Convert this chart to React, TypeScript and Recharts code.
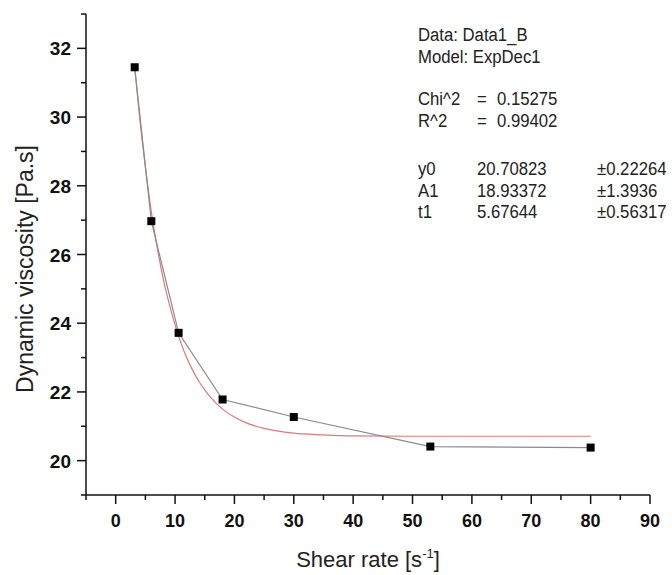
import React from "react";
import { ComposedChart, Line, XAxis, YAxis, Label } from "recharts";

const shearRate = [3.2, 6, 10.6, 18, 30, 53, 80];
const viscosity = [31.45, 26.97, 23.72, 21.78, 21.27, 20.41, 20.38];

const fitX = [3.2, 4, 5, 6, 7, 8, 9, 10, 11, 12, 13, 14, 15, 16, 18, 20, 22, 25, 30, 35, 40, 50, 60, 70, 80];
const fitY = [31.45, 30.05, 28.55, 27.25, 26.2, 25.3, 24.58, 23.95, 23.42, 22.98, 22.62, 22.31, 22.06, 21.84, 21.5, 21.27, 21.1, 20.94, 20.8, 20.75, 20.72, 20.71, 20.71, 20.71, 20.71];

const xTicks = [-5, 0, 5, 10, 15, 20, 25, 30, 35, 40, 45, 50, 55, 60, 65, 70, 75, 80, 85, 90];
const yTicks = [19, 20, 21, 22, 23, 24, 25, 26, 27, 28, 29, 30, 31, 32, 33];

const infoHeader = ["Data: Data1_B", "Model: ExpDec1"];
const fitStats = [
  ["Chi^2", "=", "0.15275"],
  ["R^2", "=", "0.99402"],
];
const fitParams = [
  ["y0", "20.70823", "±0.22264"],
  ["A1", "18.93372", "±1.3936"],
  ["t1", "5.67644", "±0.56317"],
];

const dataRows = shearRate.map((x, i) => ({ x, y: viscosity[i] }));
const fitRows = fitX.map((x, i) => ({ x, fit: fitY[i] }));

const FONT = "'Liberation Sans', Arial, sans-serif";

const XTick = (props: any) => {
  const { x, y, payload } = props;
  const v = payload.value;
  const major = v % 10 === 0;
  return (
    <g>
      <line x1={x} x2={x} y1={y} y2={y + (major ? 9 : 5)} stroke="#111" strokeWidth={1.5} />
      {major && (
        <text x={x} y={y + 32} textAnchor="middle" fontFamily={FONT} fontWeight="bold" fontSize={18} fill="#111">
          {v}
        </text>
      )}
    </g>
  );
};

const YTick = (props: any) => {
  const { x, y, payload } = props;
  const v = payload.value;
  const major = v % 2 === 0;
  return (
    <g>
      <line x1={x} x2={x - (major ? 9 : 5)} y1={y} y2={y} stroke="#111" strokeWidth={1.5} />
      {major && (
        <text x={x - 15} y={y + 7} textAnchor="end" fontFamily={FONT} fontWeight="bold" fontSize={19} fill="#111">
          {v}
        </text>
      )}
    </g>
  );
};

const SquareDot = (props: any) => {
  const { cx, cy, index } = props;
  if (cx == null || cy == null) return null;
  return <rect key={`d${index}`} x={cx - 4} y={cy - 4} width={8} height={8} fill="#000" />;
};

const T = ({ x, y, children }: { x: number; y: number; children: React.ReactNode }) => (
  <text
    transform={`translate(${x} ${y}) scale(0.88 1)`}
    x={0}
    y={0}
    fontFamily={FONT}
    fontSize={19}
    fill="#222"
  >
    {children}
  </text>
);

const Annotation = () => {
  const lx = 418;
  const headerY = [41, 63];
  const statsY = [105, 127];
  const paramsY = [175, 197, 218];
  return (
    <g>
      {infoHeader.map((t, i) => (
        <T key={t} x={lx} y={headerY[i]}>{t}</T>
      ))}
      {fitStats.map((r, i) => (
        <g key={r[0]}>
          <T x={lx} y={statsY[i]}>{r[0]}</T>
          <T x={477} y={statsY[i]}>{r[1]}</T>
          <T x={497} y={statsY[i]}>{r[2]}</T>
        </g>
      ))}
      {fitParams.map((r, i) => (
        <g key={r[0]}>
          <T x={lx} y={paramsY[i]}>{r[0]}</T>
          <T x={477} y={paramsY[i]}>{r[1]}</T>
          <T x={597} y={paramsY[i]}>{r[2]}</T>
        </g>
      ))}
    </g>
  );
};

export default function App() {
  return (
    <div style={{ width: 672, height: 575, background: "#fff" }}>
      <style>{`body{margin:0;background:#fff}`}</style>
      <ComposedChart width={672} height={575} margin={{ top: 14, right: 22, bottom: 0, left: 0 }}>
        <XAxis
          type="number"
          dataKey="x"
          domain={[-5, 90]}
          ticks={xTicks}
          interval={0}
          allowDataOverflow
          height={80}
          tickSize={0}
          tickMargin={0}
          tickLine={false}
          tick={<XTick />}
          axisLine={{ stroke: "#111", strokeWidth: 1.5 }}
        >
          <Label
            content={() => (
              <text x={368} y={567} textAnchor="middle" fontFamily={FONT} fontSize={22} fill="#222">
                Shear rate [s
                <tspan dy={-9} fontSize={13}>-1</tspan>
                <tspan dy={9}>]</tspan>
              </text>
            )}
          />
        </XAxis>
        <YAxis
          type="number"
          domain={[19, 33]}
          ticks={yTicks}
          interval={0}
          allowDataOverflow
          width={86}
          tickSize={0}
          tickMargin={0}
          tickLine={false}
          tick={<YTick />}
          axisLine={{ stroke: "#111", strokeWidth: 1.5 }}
        >
          <Label
            content={() => (
              <text
                x={33}
                y={269}
                transform="rotate(-90 33 269)"
                textAnchor="middle"
                fontFamily={FONT}
                fontSize={23}
                fill="#222"
              >
                Dynamic viscosity [Pa.s]
              </text>
            )}
          />
        </YAxis>
        <Line
          data={fitRows}
          dataKey="fit"
          type="monotone"
          stroke="#e07878"
          strokeWidth={1.2}
          dot={false}
          isAnimationActive={false}
        />
        <Line
          data={dataRows}
          dataKey="y"
          type="linear"
          stroke="#8a8a8a"
          strokeWidth={1.2}
          dot={<SquareDot />}
          isAnimationActive={false}
        />
        <Annotation />
      </ComposedChart>
    </div>
  );
}
